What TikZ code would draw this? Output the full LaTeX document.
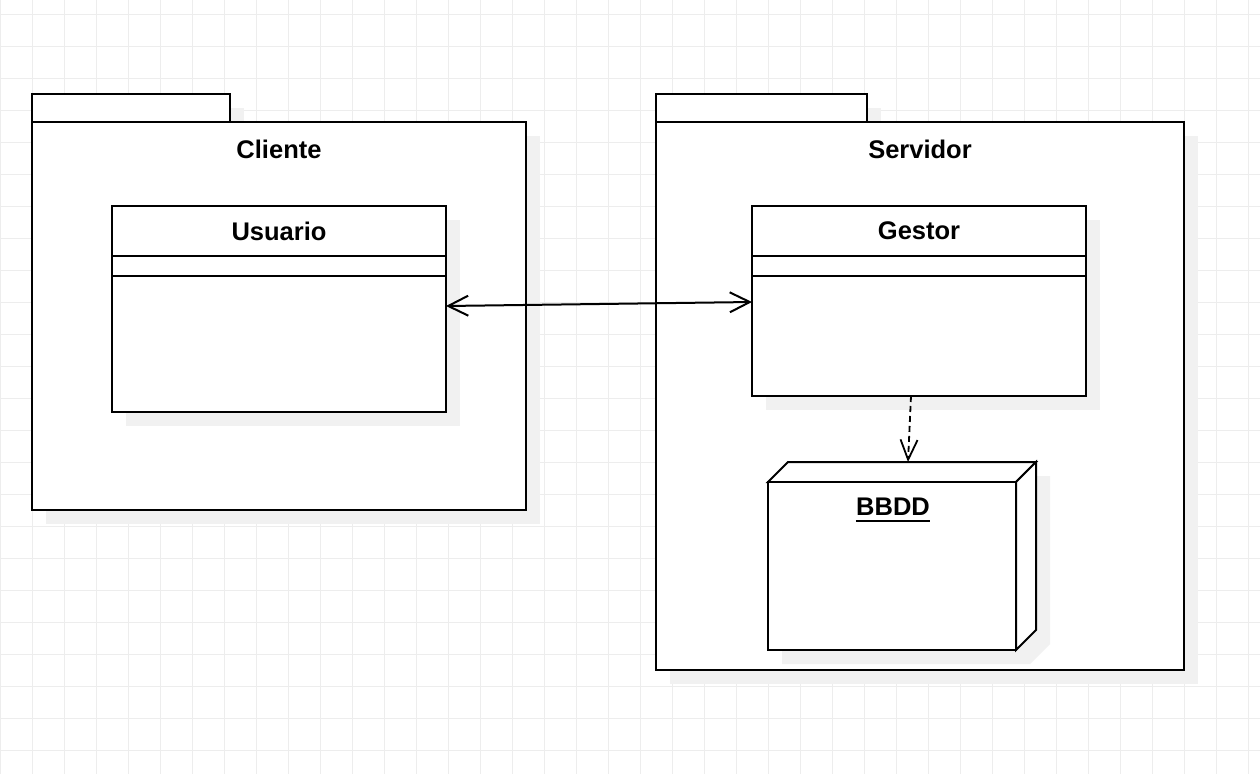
\documentclass[tikz,border=0pt]{standalone}
\usepackage{fontspec}
\setmainfont{Liberation Sans}
\usetikzlibrary{arrows.meta}
\definecolor{gridgray}{HTML}{EDEDED}
\definecolor{shadowgray}{HTML}{F1F1F1}
\begin{document}
\begin{tikzpicture}[x=1pt,y=-1pt,
  gridline/.style={draw=gridgray,line width=1pt},
  outl/.style={draw=black,line width=2pt,fill=white},
  shad/.style={fill=shadowgray,draw=none},
  boxnode/.style={outl,rectangle,inner sep=0pt,outer sep=0pt},
  lbl/.style={font=\fontsize{25.5}{30}\selectfont\bfseries,inner sep=0pt},
  assoc/.style={line width=2pt,{Straight Barb[length=20pt,width=20pt,line width=2pt]}-{Straight Barb[length=20pt,width=20pt,line width=2pt]}},
  depend/.style={line width=1.8pt,dash pattern=on 6pt off 4pt,-{Straight Barb[length=20pt,width=17pt,line width=1.8pt]}}]
\useasboundingbox (0,0) rectangle (1260,774);
\fill[white] (0,0) rectangle (1260,774);
% grid
\foreach \x in {0,32,...,1248} \draw[gridline] (\x+0.5,0) -- (\x+0.5,774);
\foreach \y in {14,46,...,750} \draw[gridline] (0,\y) -- (1260,\y);
% package shadows
\fill[shad] (46,108) rectangle (244,136);
\fill[shad] (46,136) rectangle (540,524);
\fill[shad] (670,108) rectangle (881,136);
\fill[shad] (670,136) rectangle (1198,684);
% packages
\node[boxnode,minimum width=198pt,minimum height=28pt] (clientetab) at (131,108) {};
\node[boxnode,minimum width=494pt,minimum height=388pt] (cliente) at (279,316) {};
\node[lbl] (clientelbl) at (279,149) {Cliente};
\node[boxnode,minimum width=211pt,minimum height=28pt] (servidortab) at (761.5,108) {};
\node[boxnode,minimum width=528pt,minimum height=548pt] (servidor) at (920,396) {};
\node[lbl] (servidorlbl) at (920,149) {Servidor};
% inner shadows
\fill[shad] (126,220) rectangle (460,426);
\fill[shad] (766,220) rectangle (1100,410);
\fill[shad] (782,496) -- (802,476) -- (1050,476) -- (1050,644) -- (1030,664) -- (782,664) -- cycle;
% classes
\node[boxnode,minimum width=334pt,minimum height=206pt] (usuario) at (279,309) {};
\draw[line width=2pt] (112,256) -- (446,256) (112,276) -- (446,276);
\node[lbl] (usuariolbl) at (279,231) {Usuario};
\node[boxnode,minimum width=334pt,minimum height=190pt] (gestor) at (919,301) {};
\draw[line width=2pt] (752,256) -- (1086,256) (752,276) -- (1086,276);
\node[lbl] (gestorlbl) at (919,231) {Gestor};
% BBDD node
\draw[outl,line join=miter] (768,482) -- (788,462) -- (1036,462) -- (1016,482) -- cycle;
\draw[outl,line join=miter] (1016,482) -- (1036,462) -- (1036,630) -- (1016,650) -- cycle;
\node[boxnode,minimum width=248pt,minimum height=168pt] (bbdd) at (892,566) {};
\node[lbl] (bbddlbl) at (893,507) {BBDD};
\draw[line width=2pt] ([yshift=-5pt]bbddlbl.south west) -- ([yshift=-5pt]bbddlbl.south east);
% connectors
\draw[assoc] ([yshift=3pt]usuario.east) -- ([yshift=-1pt]gestor.west);
\draw[depend] ([xshift=-8pt]gestor.south) -- ([xshift=16pt,yshift=20pt]bbdd.north);
\end{tikzpicture}
\end{document}
